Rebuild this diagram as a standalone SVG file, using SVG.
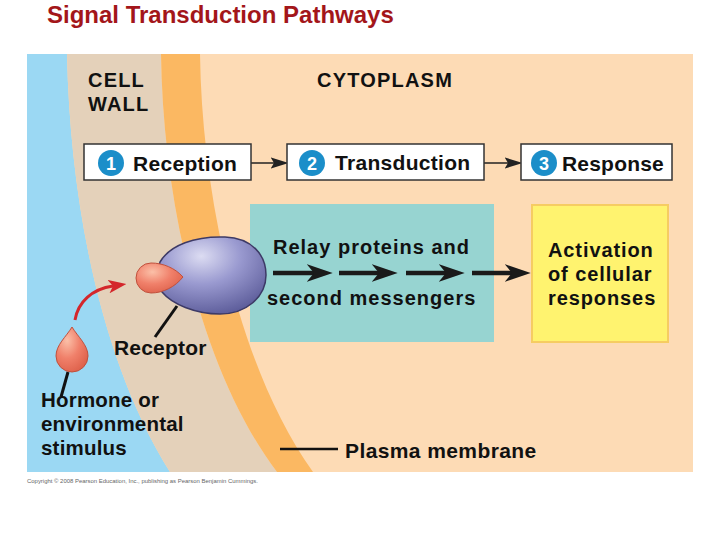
<svg xmlns="http://www.w3.org/2000/svg" width="720" height="540" viewBox="0 0 720 540">
<defs>
<style>
.t{font-family:"Liberation Sans",Arial,Helvetica,sans-serif;font-weight:bold;fill:#111}
.box{fill:#ffffff;stroke:#333;stroke-width:1.5}
.num{fill:#1b8ec9}
.nt{font-family:"Liberation Sans",Arial,sans-serif;font-weight:bold;font-size:18px;fill:#fff;text-anchor:middle}
.lead{stroke:#111;stroke-width:3;fill:none}
.thin{stroke:#222;stroke-width:1.5;fill:none}
.thick{stroke:#1a1a1a;stroke-width:4.5;fill:none}
</style>
<marker id="ah" markerUnits="userSpaceOnUse" markerWidth="18" markerHeight="12" refX="3" refY="5" orient="auto" viewBox="0 0 16 10">
<path d="M0,0 L16,5 L0,10 L3,5 Z" fill="#222"/>
</marker>
<marker id="big" markerUnits="userSpaceOnUse" markerWidth="26" markerHeight="18" refX="7" refY="8.5" orient="auto" viewBox="0 0 25 17">
<path d="M0,0 L25,8.5 L0,17 L7,8.5 Z" fill="#1a1a1a"/>
</marker>
<marker id="red" markerUnits="userSpaceOnUse" markerWidth="18" markerHeight="14" refX="4" refY="6" orient="auto" viewBox="0 0 16 12">
<path d="M0,0 L16,6 L0,12 L4,6 Z" fill="#d4262b"/>
</marker>
<radialGradient id="purp" cx="0.4" cy="0.25" r="0.8">
<stop offset="0" stop-color="#dcdcf2"/>
<stop offset="0.45" stop-color="#9a9ad0"/>
<stop offset="1" stop-color="#5a5a98"/>
</radialGradient>
<radialGradient id="lig" cx="0.35" cy="0.3" r="0.8">
<stop offset="0" stop-color="#fbc0a8"/>
<stop offset="0.5" stop-color="#f0806a"/>
<stop offset="1" stop-color="#dc5e48"/>
</radialGradient>
</defs>

<g id="background">
<rect x="27" y="54" width="666" height="418" fill="#fddbb5"/>
<path d="M27,54 L67,54 C70,200 100,360 170,472 L27,472 Z" fill="#9bd8f3"/>
<path d="M67,54 L161,54 C163,200 200,370 277,472 L170,472 C100,360 70,200 67,54 Z" fill="#e4d1ba"/>
<path d="M161,54 L200,54 C202,200 240,370 313,472 L277,472 C200,370 163,200 161,54 Z" fill="#fbb862"/>
</g>

<g id="title"><text class="t" x="47" y="23" font-size="24" fill="#a3161a" style="fill:#a3161a">Signal Transduction Pathways</text></g>

<g id="cell-wall-label"><text class="t" font-size="20" letter-spacing="1.2"><tspan x="88" y="87">CELL</tspan><tspan x="88" y="111">WALL</tspan></text></g>
<g id="cytoplasm-label"><text class="t" x="317" y="87" font-size="20" letter-spacing="1.2">CYTOPLASM</text></g>

<g id="relay">
<rect x="250" y="204" width="244" height="138" fill="#97d4d1"/>
<text class="t" x="273" y="254" font-size="20" letter-spacing="1">Relay proteins and</text>
<text class="t" x="267" y="305" font-size="20" letter-spacing="1">second messengers</text>
</g>

<g id="activation">
<rect x="532" y="205" width="136" height="137" fill="#fff36f" stroke="#f6cc62" stroke-width="2"/>
<text class="t" font-size="20" letter-spacing="0.9"><tspan x="548" y="257">Activation</tspan><tspan x="548" y="281">of cellular</tspan><tspan x="548" y="305">responses</tspan></text>
</g>

<g id="connectors">
<line class="thin" x1="251" y1="163" x2="274" y2="163" marker-end="url(#ah)"/>
<line class="thin" x1="484" y1="163" x2="508" y2="163" marker-end="url(#ah)"/>
<line class="thick" x1="273" y1="273" x2="314" y2="273" marker-end="url(#big)"/>
<line class="thick" x1="339" y1="273" x2="379" y2="273" marker-end="url(#big)"/>
<line class="thick" x1="406" y1="273" x2="446" y2="273" marker-end="url(#big)"/>
<line class="thick" x1="472" y1="273" x2="512" y2="273" marker-end="url(#big)"/>
<path d="M75,320 C78,302 92,289 113,286" stroke="#d4262b" stroke-width="3" fill="none" marker-end="url(#red)"/>
<line class="lead" x1="155" y1="337" x2="177" y2="306"/>
<line class="lead" x1="68" y1="372" x2="61" y2="397"/>
<line stroke="#111" stroke-width="2.5" x1="280" y1="449" x2="338" y2="449"/>
</g>

<g id="reception">
<rect class="box" x="84" y="144" width="167" height="36"/>
<circle class="num" cx="111" cy="163" r="13"/>
<text class="nt" x="111" y="169.5">1</text>
<text class="t" x="133" y="171" font-size="21" letter-spacing="0.3">Reception</text>
</g>

<g id="transduction">
<rect class="box" x="287" y="144" width="197" height="36"/>
<circle class="num" cx="312" cy="163" r="13"/>
<text class="nt" x="312" y="169.5">2</text>
<text class="t" x="335" y="170" font-size="21" letter-spacing="0.3">Transduction</text>
</g>

<g id="response">
<rect class="box" x="521" y="144" width="151" height="36"/>
<circle class="num" cx="544" cy="163" r="13"/>
<text class="nt" x="544" y="169.5">3</text>
<text class="t" x="562" y="171" font-size="21" letter-spacing="0.2">Response</text>
</g>

<g id="receptor">
<path d="M160,262 C170,245 195,236 225,237 C252,238 266,255 266,275 C266,297 246,314 220,314 C195,314 172,304 162,292 C158,285 157,270 160,262 Z" fill="url(#purp)" stroke="#3d3a66" stroke-width="1.5"/>
<path d="M183,277 C175,268 163,263 151,263 A15,15 0 0 0 151,293 C163,293 175,287 183,277 Z" fill="url(#lig)" stroke="#c0503c" stroke-width="1"/>
<text class="t" x="114" y="355" font-size="21" letter-spacing="0.2">Receptor</text>
</g>

<g id="hormone">
<path d="M72,327 C78,337 88,345 88,356 A16,16 0 0 1 56,356 C56,345 66,337 72,327 Z" fill="url(#lig)" stroke="#c0503c" stroke-width="1"/>
<text class="t" font-size="20.5" letter-spacing="0.2"><tspan x="41" y="407">Hormone or</tspan><tspan x="41" y="431">environmental</tspan><tspan x="41" y="455">stimulus</tspan></text>
</g>

<g id="plasma-membrane-label"><text class="t" x="345" y="458" font-size="21" letter-spacing="0.4">Plasma membrane</text></g>

<g id="copyright"><text x="27" y="483" font-family="'Liberation Sans',Arial,sans-serif" font-size="6" fill="#666" textLength="231" lengthAdjust="spacingAndGlyphs">Copyright © 2008 Pearson Education, Inc., publishing as Pearson Benjamin Cummings.</text></g>
</svg>
